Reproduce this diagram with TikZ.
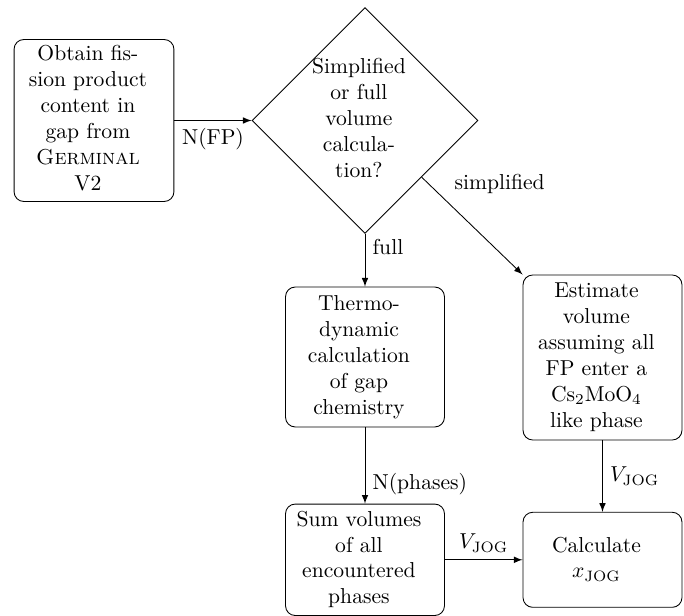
\documentclass[tikz,border=0pt]{standalone}
\usetikzlibrary{shapes.geometric,arrows}
\newcommand\ltxt[1]{\begin{tabular}{@{\hspace{-5.6pt}}c@{}}#1\end{tabular}}
\begin{document}
\begin{tikzpicture}[x=0.463pt,y=-0.463pt,
  blockbox/.style={draw, rectangle, rounded corners=4.5pt, inner sep=1pt, minimum width=73.6pt},
  decbox/.style={draw, diamond, inner sep=0pt, minimum width=104.6pt, minimum height=104.6pt},
  arr/.style={draw, -latex}]
\useasboundingbox (0,0) rectangle (684,616);
\node[blockbox, minimum width=74pt, minimum height=75pt] (obtain) at (94,120.5)
  {\ltxt{Obtain fis-\\sion product\\content in\\gap from\\\textsc{Germinal}\\V2}};
\node[decbox] (dec) at (365,120.5)
  {\ltxt{Simplified\\or full\\volume\\calcula-\\tion?}};
\node[blockbox, minimum height=64.8pt] (thermo) at (365,357)
  {\ltxt{Thermo-\\dynamic\\calculation\\of gap\\chemistry}};
\node[blockbox, minimum height=76.4pt] (est) at (602.5,357.5)
  {\ltxt{Estimate\\volume\\assuming all\\FP enter a\\Cs$_2$MoO$_4$\\like phase}};
\node[blockbox, minimum height=51.6pt] (sum) at (365,559.8)
  {\ltxt{Sum volumes\\of all\\encountered\\phases}};
\node[blockbox, minimum height=44pt] (calc) at (602.5,559.8)
  {\ltxt{Calculate\\$x_\mathrm{JOG}$}};
\draw[arr] (obtain) -- node[below] {N(FP)} (dec);
\draw[arr] (dec) -- node[near start, right] {full} (thermo);
\draw[arr] (dec.south east) -- node[near start, above right] {simplified} (est.north west);
\draw[arr] (thermo) -- node[near end, right] {N(phases)} (sum);
\draw[arr] (est) -- node[right] {$V_\mathrm{JOG}$} (calc);
\draw[arr] (sum) -- node[above] {$V_\mathrm{JOG}$} (calc);
\end{tikzpicture}
\end{document}
